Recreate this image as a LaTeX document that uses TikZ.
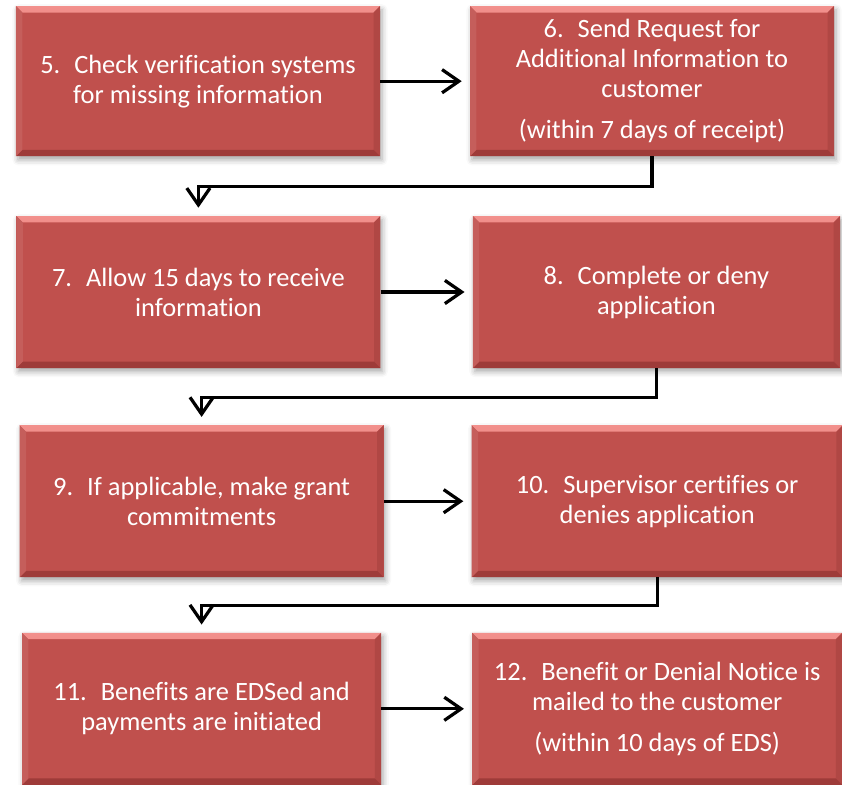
\documentclass[tikz,border=0pt]{standalone}
\usepackage{fontspec}
\setmainfont{Carlito}[Ligatures={NoCommon,NoContextual}]
\usepackage{tikz}
\usetikzlibrary{positioning,arrows.meta,shadows.blur}
\definecolor{boxred}{HTML}{C0504D}
\definecolor{bevlight}{HTML}{F2908C}
\definecolor{bevmid}{HTML}{D5625E}
\definecolor{bevdark}{HTML}{9E3B39}
\definecolor{bevside}{HTML}{B04744}
\newcommand{\bev}{0.16}
\tikzset{
  stepbox/.style={rectangle,fill=boxred,text=white,minimum width=9.1cm,minimum height=3.75cm,
                  inner sep=2pt,align=center,font=\fontsize{18.8}{21.4}\selectfont,
                  blur shadow={shadow xshift=0.05cm,shadow yshift=-0.09cm,
                               shadow blur radius=0.14cm,shadow opacity=35},
                  path picture={
                    % bevelled rim: light top, dark right and bottom
                    \shade[top color=bevlight,bottom color=bevmid]
                      (path picture bounding box.north west) -- (path picture bounding box.north east)
                      -- ([shift={(-\bev,-\bev)}]path picture bounding box.north east)
                      -- ([shift={(\bev,-\bev)}]path picture bounding box.north west) -- cycle;
                    \fill[bevside]
                      (path picture bounding box.north east) -- (path picture bounding box.south east)
                      -- ([shift={(-\bev,\bev)}]path picture bounding box.south east)
                      -- ([shift={(-\bev,-\bev)}]path picture bounding box.north east) -- cycle;
                    \fill[bevdark]
                      (path picture bounding box.south west) -- (path picture bounding box.south east)
                      -- ([shift={(-\bev,\bev)}]path picture bounding box.south east)
                      -- ([shift={(\bev,\bev)}]path picture bounding box.south west) -- cycle;
                    \fill[boxred!92!white]
                      (path picture bounding box.north west) -- (path picture bounding box.south west)
                      -- ([shift={(\bev,\bev)}]path picture bounding box.south west)
                      -- ([shift={(\bev,-\bev)}]path picture bounding box.north west) -- cycle;
                  }},
  flow/.style={-{Straight Barb[length=4.2mm,width=5.8mm,line width=2.3pt]},line width=2.2pt,
               shorten >=0.2cm},
}

\begin{document}
\begin{tikzpicture}[x=1cm,y=1cm]
  \useasboundingbox (0,0) rectangle (21.05,-19.6);
  % ---- row 1 ----
  \node[stepbox] (chk) at (4.95,-2.03) {5.~ Check verification systems\\for missing information};
  \node[stepbox] (req) at (16.3,-2.03) {6.~ Send Request for\\Additional Information to\\customer\\[8pt](within 7 days of receipt)};
  % ---- row 2 ----
  \node[stepbox,minimum height=3.8cm] (wait) at (4.96,-7.3) {7.~ Allow 15 days to receive\\information};
  \node[stepbox,minimum width=9.18cm,minimum height=3.8cm] (decide) at (16.41,-7.3) {8.~ Complete or deny\\application};
  % ---- row 3 ----
  \node[stepbox,minimum height=3.8cm] (grant) at (5.04,-12.53) {9.~ If applicable, make grant\\commitments};
  \node[stepbox,minimum width=9.28cm,minimum height=3.8cm] (cert) at (16.43,-12.53) {10.~ Supervisor certifies or\\denies application};
  % ---- row 4 ----
  \node[stepbox,minimum width=8.98cm,minimum height=3.8cm] (eds) at (5.04,-17.72) {11.~ Benefits are EDSed and\\payments are initiated};
  \node[stepbox,minimum width=9.25cm,minimum height=3.8cm] (notice) at (16.43,-17.72) {12.~ Benefit or Denial Notice is\\mailed to the customer\\[8pt](within 10 days of EDS)};
  % ---- edges ----
  \draw[flow] (chk) -- (req);
  \draw[flow] (req.south) -- ++(0,-0.75) -| (wait.north);
  \draw[flow] (wait) -- (decide);
  \draw[flow] (decide.south) -- ++(0,-0.73) -| (grant.north);
  \draw[flow] (grant) -- (cert);
  \draw[flow] (cert.south) -- ++(0,-0.7) -| (eds.north);
  \draw[flow] (eds) -- (notice);
\end{tikzpicture}
\end{document}
